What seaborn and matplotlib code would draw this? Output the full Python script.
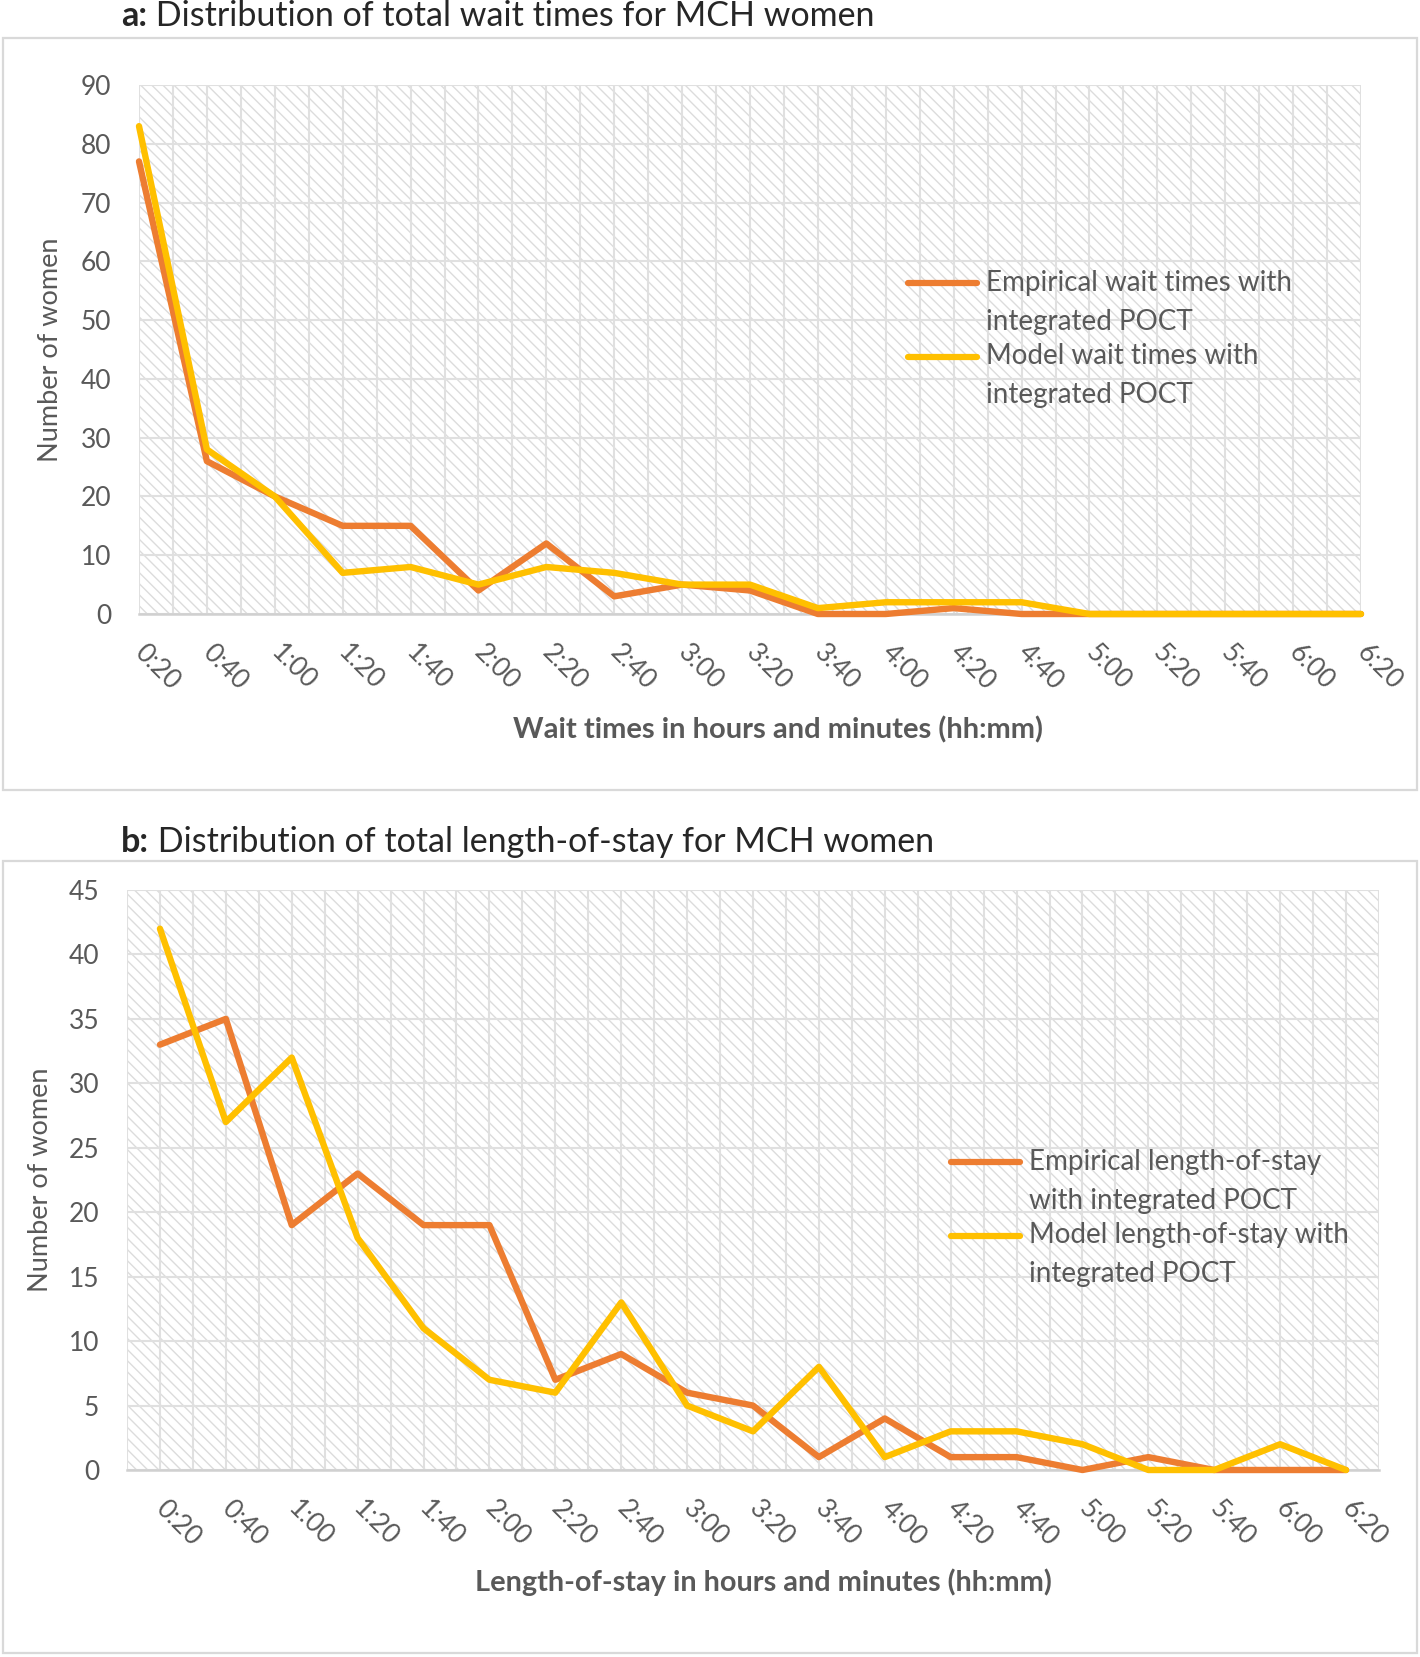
import matplotlib
matplotlib.use("Agg")
import matplotlib.pyplot as plt
import seaborn as sns
import numpy as np
import pandas as pd
from matplotlib.patches import Rectangle

# time bins (hh:mm)
time_labels = ["0:20", "0:40", "1:00", "1:20", "1:40", "2:00", "2:20", "2:40", "3:00", "3:20",
               "3:40", "4:00", "4:20", "4:40", "5:00", "5:20", "5:40", "6:00", "6:20"]

# panel a: wait times
wait_empirical = [77, 26, 20, 15, 15, 4, 12, 3, 5, 4, 0, 0, 1, 0, 0, 0, 0, 0, 0]
wait_model = [83, 28, 20, 7, 8, 5, 8, 7, 5, 5, 1, 2, 2, 2, 0, 0, 0, 0, 0]

# panel b: length-of-stay
los_empirical = [33, 35, 19, 23, 19, 19, 7, 9, 6, 5, 1, 4, 1, 1, 0, 1, 0, 0, 0]
los_model = [42, 27, 32, 18, 11, 7, 6, 13, 5, 3, 8, 1, 3, 3, 2, 0, 0, 2, 0]

ORANGE = "#ED7D31"
GOLD = "#FFC000"
GREY = "#595959"
W, H = 1420, 1657

sns.set_theme(style="white")
plt.rcParams["font.family"] = ["Lato", "DejaVu Sans"]
plt.rcParams["hatch.linewidth"] = 1.0

fig = plt.figure(figsize=(W / 100, H / 100), dpi=100)


def px_axes(left, top, right, bottom):
    return fig.add_axes([left / W, 1 - bottom / H, (right - left) / W, (bottom - top) / H])


def panel(ax, emp, mod, labels, ymax, ystep, xlo, xhi):
    ax.patch.set_facecolor("white")
    ax.patch.set_edgecolor("#dcdcdc")
    ax.patch.set_hatch("\\\\\\")
    ax.patch.set_linewidth(0)

    df = pd.DataFrame({
        "slot": list(range(len(time_labels))) * 2,
        "women": emp + mod,
        "series": [labels[0]] * len(emp) + [labels[1]] * len(mod),
    })
    sns.lineplot(data=df, x="slot", y="women", hue="series", palette=[ORANGE, GOLD],
                 linewidth=4.6, ax=ax, legend=False, errorbar=None,
                 solid_joinstyle="round", solid_capstyle="round")
    for ln in ax.lines:
        ln.set_clip_on(False)
        ln.set_zorder(5)

    ax.set_xlim(xlo, xhi)
    ax.set_ylim(0, ymax)
    ax.set_yticks(np.arange(0, ymax + 1, ystep))
    ax.set_xticks(range(len(time_labels)))
    ax.set_xticks(np.arange(xlo, xhi + 0.01, 0.5), minor=True)
    ax.set_xticklabels(time_labels, rotation=-45, ha="left", va="center",
                       rotation_mode="anchor")
    ax.tick_params(axis="x", which="both", length=0, pad=25, labelsize=19, labelcolor=GREY)
    ax.tick_params(axis="y", length=0, pad=20, labelsize=19, labelcolor=GREY)
    ax.set_axisbelow(True)
    ax.grid(True, which="both", axis="x", color="#e0e0e0", linewidth=1.5)
    ax.grid(True, which="major", axis="y", color="#e0e0e0", linewidth=1.5)
    for s in ["top", "right", "left"]:
        ax.spines[s].set_visible(False)
    ax.spines["bottom"].set_color("#d0d0d0")
    ax.spines["bottom"].set_linewidth(1.8)
    ax.set_xlabel("")
    ax.set_ylabel("")


def add_legend(ax, labels, x_px, top_px):
    handles = ax.lines[:2]
    leg = ax.legend(handles, labels, loc="upper left",
                    bbox_to_anchor=(x_px / W, 1 - top_px / H), bbox_transform=fig.transFigure,
                    frameon=False, borderpad=0, borderaxespad=0, handlelength=2.5,
                    handletextpad=0.3, labelspacing=0.3, fontsize=20)
    for t in leg.get_texts():
        t.set_color(GREY)
        t.set_linespacing(1.62)
    for ln in leg.get_lines():
        ln.set_linewidth(4.5)
        ln.set_ydata(np.asarray(ln.get_ydata()) + 14.3)
    return leg


# frames around both panels
for (l, t, r, b) in [(3, 38, 1417, 790), (3, 861, 1417, 1653)]:
    fig.add_artist(Rectangle((l / W, 1 - b / H), (r - l) / W, (b - t) / H,
                             transform=fig.transFigure, fill=False,
                             edgecolor="#d9d9d9", linewidth=1.6))

# panel a
ax_a = px_axes(139, 85, 1361, 614)
labels_a = ["Empirical wait times with\nintegrated POCT", "Model wait times with\nintegrated POCT"]
panel(ax_a, wait_empirical, wait_model, labels_a, 90, 10, 0, 18)
add_legend(ax_a, labels_a, 908, 270)
ax_a.set_xlabel("Wait times in hours and minutes (hh:mm)", fontsize=21, fontweight="bold",
                color=GREY, va="center")
ax_a.xaxis.set_label_coords((778 - 139) / 1222, -(730 - 614) / 529)
ax_a.set_ylabel("Number of women", fontsize=19.5, color=GREY, va="center")
ax_a.yaxis.set_label_coords(-(139 - 51) / 1222, 0.5)

# panel b
ax_b = px_axes(127, 890, 1379, 1470)
labels_b = ["Empirical length-of-stay\nwith integrated POCT", "Model length-of-stay with\nintegrated POCT"]
panel(ax_b, los_empirical, los_model, labels_b, 45, 5, -0.5, 18.5)
add_legend(ax_b, labels_b, 951, 1149)
ax_b.set_xlabel("Length-of-stay in hours and minutes (hh:mm)", fontsize=20.8, fontweight="bold",
                color=GREY, va="center")
ax_b.xaxis.set_label_coords((763 - 127) / 1252, -(1582 - 1470) / 580)
ax_b.set_ylabel("Number of women", fontsize=19.5, color=GREY, va="center")
ax_b.yaxis.set_label_coords(-(127 - 40) / 1252, 0.5)

# titles
ta = fig.text(121 / W, 1 - 32 / H, "a:", fontsize=24.5, fontweight="bold", ha="left", va="bottom")
ax_a.annotate(" Distribution of total wait times for MCH women", xy=(1, 0), xycoords=ta,
              fontsize=24.5, ha="left", va="bottom", annotation_clip=False)
tb = fig.text(121 / W, 1 - 858 / H, "b:", fontsize=24.5, fontweight="bold", ha="left", va="bottom")
ax_b.annotate(" Distribution of total length-of-stay for MCH women", xy=(1, 0), xycoords=tb,
              fontsize=24.5, ha="left", va="bottom", annotation_clip=False)

fig.savefig("out.png", dpi=100)
